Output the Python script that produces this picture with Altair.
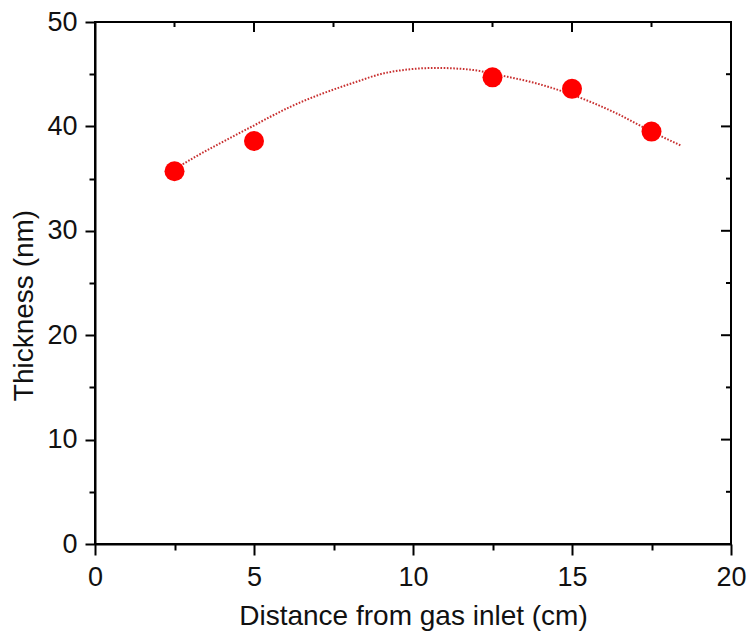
import altair as alt
import pandas as pd

# Measured data points
distance = [2.5, 5.0, 12.5, 15.0, 17.5]
thickness = [35.7, 38.6, 44.7, 43.6, 39.5]

# Fit curve
fit_x = [2.5, 3.05, 4.82, 6.16, 8.15, 9.18, 10.73, 11.76, 12.81, 13.78, 14.99, 16.33, 17.67, 18.44]
fit_y = [35.9, 36.9, 39.8, 41.9, 44.2, 45.15, 45.6, 45.45, 44.85, 44.2, 43.05, 41.35, 39.25, 38.15]

# Tick values
x_ticks = [0, 2.5, 5, 7.5, 10, 12.5, 15, 17.5, 20]
y_ticks = [0, 5, 10, 15, 20, 25, 30, 35, 40, 45, 50]
x_major = [0, 5, 10, 15, 20]
x_minor = [2.5, 7.5, 12.5, 17.5]
y_major = [0, 10, 20, 30, 40, 50]
y_minor = [5, 15, 25, 35, 45]

W, H = 636, 522
FONT = "Liberation Sans"
LBL = 27
TTL = 28

pts = pd.DataFrame({"d": distance, "t": thickness})
fit = pd.DataFrame({"d": fit_x, "t": fit_y})

xscale = alt.Scale(domain=[0, 20], nice=False, zero=False)
yscale = alt.Scale(domain=[0, 50], nice=False, zero=False)

xaxis = alt.Axis(
    values=x_ticks,
    tickSize={"condition": {"test": "datum.value % 5 === 0", "value": 11}, "value": 6},
    tickWidth=2, tickColor="black",
    labelExpr="datum.value % 5 === 0 ? datum.label : ''",
    labelFont=FONT, labelFontSize=LBL, labelColor="#111", labelPadding=9,
    title="Distance from gas inlet (cm)", titleFont=FONT, titleFontSize=TTL,
    titleFontWeight="normal", titleColor="#111", titlePadding=12,
    domain=True, domainWidth=2, domainColor="black", grid=False, labelFlush=False,
)
yaxis = alt.Axis(
    values=y_ticks,
    tickSize={"condition": {"test": "datum.value % 10 === 0", "value": 10}, "value": 6},
    tickWidth=2, tickColor="black",
    labelExpr="datum.value % 10 === 0 ? datum.label : ''",
    labelFont=FONT, labelFontSize=LBL, labelColor="#111", labelPadding=8,
    title="Thickness (nm)", titleFont=FONT, titleFontSize=TTL,
    titleFontWeight="normal", titleColor="#111", titlePadding=8, titleY=283,
    domain=True, domainWidth=2, domainColor="black", grid=False, labelFlush=False,
)

X = lambda f: alt.X(f, scale=xscale, axis=xaxis)
Y = lambda f: alt.Y(f, scale=yscale, axis=yaxis)

curve = alt.Chart(fit).mark_line(
    color="#c83030", strokeWidth=2, strokeDash=[1.6, 1.6], interpolate="monotone"
).encode(x=X("d:Q"), y=Y("t:Q"))

points = alt.Chart(pts).mark_circle(color="#ff0000", opacity=1, size=400).encode(
    x=X("d:Q"), y=Y("t:Q"))

top_major = alt.Chart(pd.DataFrame({"v": x_major})).mark_rule(color="black", strokeWidth=2).encode(
    x=X("v:Q"), y=alt.value(0), y2=alt.value(10))
top_minor = alt.Chart(pd.DataFrame({"v": x_minor})).mark_rule(color="black", strokeWidth=2).encode(
    x=X("v:Q"), y=alt.value(0), y2=alt.value(5))
right_major = alt.Chart(pd.DataFrame({"v": y_major})).mark_rule(color="black", strokeWidth=2).encode(
    y=Y("v:Q"), x=alt.value(W), x2=alt.value(W - 10))
right_minor = alt.Chart(pd.DataFrame({"v": y_minor})).mark_rule(color="black", strokeWidth=2).encode(
    y=Y("v:Q"), x=alt.value(W), x2=alt.value(W - 5))

chart = alt.layer(curve, points, top_major, top_minor, right_major, right_minor).properties(
    width=W, height=H,
    background="white",
    autosize=alt.AutoSizeParams(type="none"),
    padding={"left": 87, "top": 14, "right": 739 - 87 - W, "bottom": 623 - 14 - H},
).configure_view(stroke="black", strokeWidth=2)

chart.save("out.html", embed_options={"renderer": "svg", "actions": False})
